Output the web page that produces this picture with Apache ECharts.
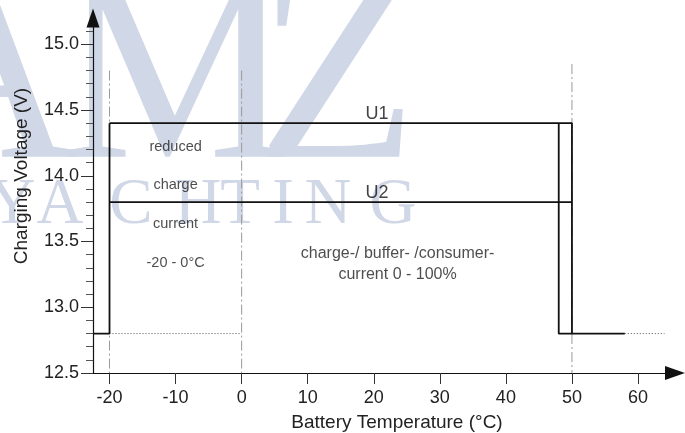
<!DOCTYPE html>
<html><head><meta charset="utf-8">
<script src="https://cdn.jsdelivr.net/npm/echarts@6/dist/echarts.min.js"></script>
<style>html,body{margin:0;padding:0;background:#fff}#c{width:685px;height:433px}</style>
</head><body><div id="c"></div>
<script>
// ---- data ----
const xTicks = [-20, -10, 0, 10, 20, 30, 40, 50, 60];
const yTicks = [12.5, 13.0, 13.5, 14.0, 14.5, 15.0];
const yMinorTicks = [12.6, 12.7, 12.8, 12.9, 13.1, 13.2, 13.3, 13.4, 13.6, 13.7, 13.8, 13.9,
                     14.1, 14.2, 14.3, 14.4, 14.6, 14.7, 14.8, 14.9, 15.1];
const lowLeft    = [[-22.5, 12.8], [-20, 12.8], [-20, 14.4]];
const u1Line     = [[-20, 14.4], [50, 14.4], [50, 12.8]];
const u2Line     = [[-20, 13.8], [50, 13.8]];
const cutoffLine = [[48, 14.4], [48, 12.8], [58, 12.8]];
const dottedLeft  = [[-20, 12.8], [0, 12.8]];
const dottedRight = [[58, 12.8], [64, 12.8]];
const guideX   = [-20, 0, 50];
const guideTop = [14.8, 14.8, 14.85];
const guideBottom = 12.5;
const lineNames = ['U1', 'U2'];
const lineNameX = [20.5, 20.5];
const lineNameY = [14.4, 13.8];
const leftNotes = ['reduced', 'charge', 'current', '-20 - 0°C'];
const leftNoteX = [-10, -10, -10, -10];
const leftNoteY = [14.22, 13.93, 13.63, 13.34];
const centerNotes = ['charge-/ buffer- /consumer-\ncurrent 0 - 100%'];
const centerNoteX = [23.6];
const centerNoteY = [13.33];
const watermarkBig = ['A', 'M', 'Z'];
const watermarkSmall = ['Y', 'A', 'C', 'H', 'T', 'I', 'N', 'G'];

// ---- chart ----
const FONT = '"Liberation Sans", Arial, sans-serif';
const BLACK = '#111';
const chart = echarts.init(document.getElementById('c'), null, {renderer: 'canvas'});

const solid = {color: BLACK, width: 1.8};
function lineSeries(data, style, z) {
  return {type: 'line', data: data, showSymbol: false, symbol: 'none', silent: true,
          animation: false, lineStyle: style, z: z};
}
const series = [];
guideX.forEach((gx, i) => {
  series.push(lineSeries([[gx, guideTop[i]], [gx, guideBottom]],
    {color: '#9a9a9a', width: 1, type: [10, 3, 2, 3]}, 1));
});
series.push(lineSeries(dottedLeft, {color: '#555', width: 1, type: [1, 2]}, 2));
series.push(lineSeries(dottedRight, {color: '#555', width: 1, type: [1, 2]}, 2));
series.push(lineSeries(lowLeft, solid, 3));
series.push(lineSeries(u1Line, solid, 3));
series.push(lineSeries(u2Line, solid, 3));
series.push(lineSeries(cutoffLine, solid, 3));

series.push({
  type: 'scatter', symbolSize: 0, silent: true, animation: false, z: 4,
  data: lineNames.map((n, i) => ({name: n, value: [lineNameX[i], lineNameY[i]]})),
  label: {show: true, position: 'top', distance: 0, formatter: p => p.name,
          fontSize: 18, color: BLACK, fontFamily: FONT}
});
series.push({
  type: 'scatter', symbolSize: 0, silent: true, animation: false, z: 4,
  data: leftNotes.map((n, i) => ({name: n, value: [leftNoteX[i], leftNoteY[i]]})),
  label: {show: true, position: 'inside', formatter: p => p.name,
          fontSize: 14.5, color: '#222', fontFamily: FONT}
});
series.push({
  type: 'scatter', symbolSize: 0, silent: true, animation: false, z: 4,
  data: centerNotes.map((n, i) => ({name: n, value: [centerNoteX[i], centerNoteY[i]]})),
  label: {show: true, position: 'inside', formatter: p => p.name, align: 'center',
          fontSize: 16, lineHeight: 21, color: '#222', fontFamily: FONT}
});

const wmColor = '#d0d7e6';
const bigX = [-18, 176, 337];
const smallX = [12, 60, 131, 198, 240, 283, 328, 393];
const graphics = [];
watermarkBig.forEach((t, i) => graphics.push({
  type: 'text', z: -10, silent: true, x: bigX[i], y: 88,
  style: {text: t, fill: wmColor, font: '262px "Liberation Serif", "DejaVu Serif", serif',
          align: 'center', verticalAlign: 'middle'}
}));
watermarkSmall.forEach((t, i) => graphics.push({
  type: 'text', z: -10, silent: true, x: smallX[i], y: 206,
  style: {text: t, fill: wmColor, font: '65px "Liberation Serif", "DejaVu Serif", serif',
          align: 'center', verticalAlign: 'middle'}
}));

chart.setOption({
  animation: false,
  backgroundColor: '#fff',
  graphic: {elements: graphics},
  grid: {left: 93, right: 10, top: 18, bottom: 60, containLabel: false, outerBoundsMode: 'none'},
  xAxis: {
    type: 'value', min: -22.5, max: 65.6,
    name: 'Battery Temperature (°C)', nameLocation: 'middle', nameGap: 40,
    nameTextStyle: {fontSize: 19, color: '#222', fontFamily: FONT, padding: [0, 0, 0, 26]},
    axisLine: {show: true, onZero: false, symbol: ['none', 'triangle'], symbolSize: [14, 20],
               lineStyle: {color: BLACK, width: 1.2}},
    axisTick: {show: true, customValues: xTicks, length: 11, lineStyle: {color: '#333', width: 1}},
    axisLabel: {customValues: xTicks, fontSize: 18, color: '#222', margin: 16, fontFamily: FONT},
    splitLine: {show: false}
  },
  yAxis: [{
    type: 'value', min: 12.5, max: 15.2,
    name: 'Charging Voltage (V)', nameLocation: 'middle', nameGap: 62,
    nameTextStyle: {fontSize: 19, color: '#222', fontFamily: FONT, padding: [0, 0, 0, 39]},
    axisLine: {show: true, onZero: false, symbol: ['none', 'triangle'], symbolSize: [13, 19],
               lineStyle: {color: BLACK, width: 1.2}},
    axisTick: {show: true, customValues: yTicks, length: 12, lineStyle: {color: '#333', width: 1}},
    axisLabel: {customValues: yTicks, fontSize: 18, color: '#222', margin: 14, fontFamily: FONT,
                formatter: v => v.toFixed(1)},
    splitLine: {show: false}
  }, {
    type: 'value', min: 12.5, max: 15.2, position: 'left',
    axisLine: {show: false, onZero: false},
    axisTick: {show: true, customValues: yMinorTicks, length: 7, lineStyle: {color: '#555', width: 1}},
    axisLabel: {show: false},
    splitLine: {show: false}
  }],
  series: series
});
</script>
</body></html>
